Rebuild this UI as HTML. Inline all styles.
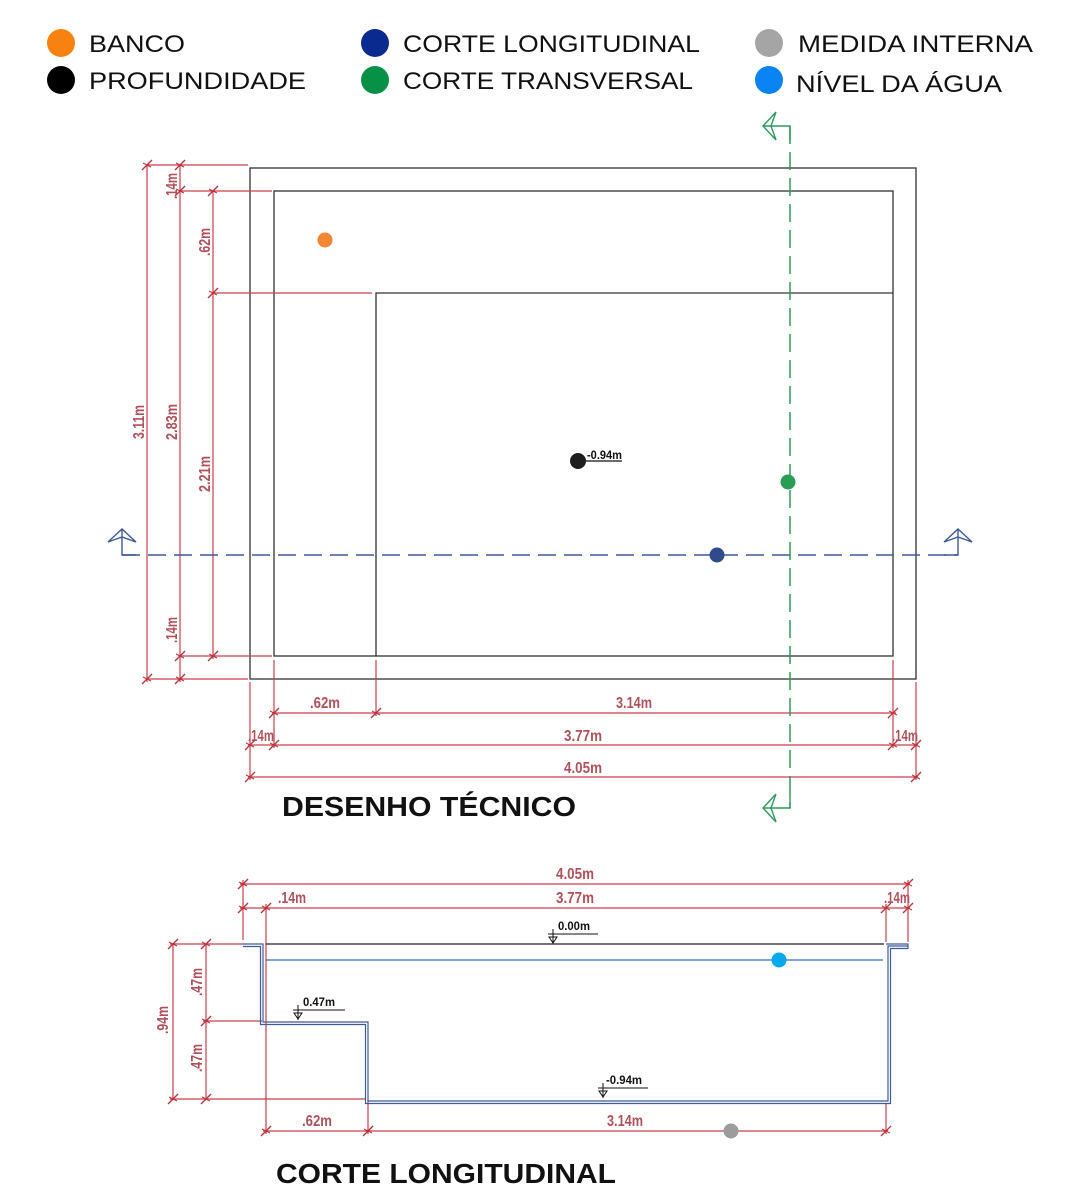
<!DOCTYPE html>
<html><head><meta charset="utf-8"><style>
html,body{margin:0;padding:0;background:#fff;}
svg{display:block;}
.lg{font-family:"Liberation Sans",sans-serif;font-size:24px;fill:#111;}
.d{font-family:"Liberation Sans",sans-serif;font-size:16px;font-weight:bold;fill:#b0505a;}
.k{font-family:"Liberation Sans",sans-serif;font-size:12px;font-weight:bold;fill:#111;}
.t{font-family:"Liberation Sans",sans-serif;font-size:28px;font-weight:bold;fill:#111;}
</style></head><body>
<svg width="1080" height="1200" viewBox="0 0 1080 1200" xmlns="http://www.w3.org/2000/svg">
<defs>
<g id="tk"><line x1="-5" y1="5" x2="5" y2="-5" stroke="#c0303a" stroke-width="1.3"/><line x1="-4" y1="-2" x2="4" y2="2" stroke="#c0303a" stroke-width="1"/></g>
</defs>
<circle cx="61" cy="43" r="14" fill="#f7820f"/>
<circle cx="61" cy="80" r="14" fill="#000"/>
<circle cx="375" cy="43" r="14" fill="#0a2a8f"/>
<circle cx="375" cy="80" r="14" fill="#069147"/>
<circle cx="769" cy="43" r="14" fill="#a5a5a5"/>
<circle cx="769" cy="80" r="14" fill="#0a84f5"/>
<text class="lg" x="89" y="52" textLength="96" lengthAdjust="spacingAndGlyphs">BANCO</text>
<text class="lg" x="89" y="89" textLength="217" lengthAdjust="spacingAndGlyphs">PROFUNDIDADE</text>
<text class="lg" x="403" y="52" textLength="297" lengthAdjust="spacingAndGlyphs">CORTE LONGITUDINAL</text>
<text class="lg" x="403" y="89" textLength="290" lengthAdjust="spacingAndGlyphs">CORTE TRANSVERSAL</text>
<text class="lg" x="798" y="52" textLength="235" lengthAdjust="spacingAndGlyphs">MEDIDA INTERNA</text>
<text class="lg" x="796" y="92" textLength="206" lengthAdjust="spacingAndGlyphs">NÍVEL DA ÁGUA</text>

<g fill="none" stroke="#333" stroke-width="1.3">
<rect x="250" y="168" width="666" height="511"/>
<rect x="274" y="191" width="619" height="465"/>
<polyline points="376,656 376,293 893,293"/>
</g>
<g stroke="#c8404a" stroke-width="1.2" fill="none">
<line x1="147" y1="165" x2="147" y2="682"/>
<line x1="180" y1="165" x2="180" y2="682"/>
<line x1="213" y1="191" x2="213" y2="659"/>
<line x1="147" y1="165" x2="248" y2="165"/>
<line x1="180" y1="191" x2="272" y2="191"/>
<line x1="213" y1="293" x2="372" y2="293"/>
<line x1="180" y1="656" x2="272" y2="656"/>
<line x1="147" y1="679" x2="248" y2="679"/>
<line x1="272" y1="713" x2="896" y2="713"/>
<line x1="248" y1="745" x2="918" y2="745"/>
<line x1="248" y1="777" x2="918" y2="777"/>
<line x1="250" y1="682" x2="250" y2="780"/>
<line x1="274" y1="660" x2="274" y2="748"/>
<line x1="376" y1="660" x2="376" y2="716"/>
<line x1="893" y1="660" x2="893" y2="748"/>
<line x1="916" y1="682" x2="916" y2="780"/>
</g>
<use href="#tk" x="147" y="165"/><use href="#tk" x="147" y="679"/>
<use href="#tk" x="180" y="165"/><use href="#tk" x="180" y="191"/><use href="#tk" x="180" y="656"/><use href="#tk" x="180" y="679"/>
<use href="#tk" x="213" y="191"/><use href="#tk" x="213" y="293"/><use href="#tk" x="213" y="656"/>
<use href="#tk" x="274" y="713"/><use href="#tk" x="376" y="713"/><use href="#tk" x="893" y="713"/>
<use href="#tk" x="250" y="745"/><use href="#tk" x="274" y="745"/><use href="#tk" x="893" y="745"/><use href="#tk" x="916" y="745"/>
<use href="#tk" x="250" y="777"/><use href="#tk" x="916" y="777"/>
<g class="d" text-anchor="middle">
<text transform="translate(144,422) rotate(-90)" textLength="34" lengthAdjust="spacingAndGlyphs">3.11m</text>
<text transform="translate(177,422) rotate(-90)" textLength="36" lengthAdjust="spacingAndGlyphs">2.83m</text>
<text transform="translate(177,186) rotate(-90)" textLength="26" lengthAdjust="spacingAndGlyphs">.14m</text>
<text transform="translate(177,630) rotate(-90)" textLength="26" lengthAdjust="spacingAndGlyphs">.14m</text>
<text transform="translate(210,242) rotate(-90)" textLength="28" lengthAdjust="spacingAndGlyphs">.62m</text>
<text transform="translate(210,474) rotate(-90)" textLength="36" lengthAdjust="spacingAndGlyphs">2.21m</text>
<text x="325" y="708" textLength="30" lengthAdjust="spacingAndGlyphs">.62m</text>
<text x="634" y="708" textLength="36" lengthAdjust="spacingAndGlyphs">3.14m</text>
<text x="261" y="741" textLength="26" lengthAdjust="spacingAndGlyphs">.14m</text>
<text x="583" y="741" textLength="38" lengthAdjust="spacingAndGlyphs">3.77m</text>
<text x="905" y="741" textLength="26" lengthAdjust="spacingAndGlyphs">.14m</text>
<text x="583" y="773" textLength="38" lengthAdjust="spacingAndGlyphs">4.05m</text>
</g>
<line x1="122" y1="555" x2="958" y2="555" stroke="#3d5a98" stroke-width="1.5" stroke-dasharray="18,8"/>
<g fill="none" stroke="#3d5a98" stroke-width="1.4">
<polyline points="136,555 122,555 122,529"/><polyline points="108,542 122,529 136,542 122,537 108,542"/>
<polyline points="944,555 958,555 958,529"/><polyline points="944,542 958,529 972,542 958,537 944,542"/>
</g>
<line x1="790" y1="126" x2="790" y2="808" stroke="#2e9a5c" stroke-width="1.5" stroke-dasharray="18,8"/>
<g fill="none" stroke="#2e9a5c" stroke-width="1.4">
<polyline points="790,140 790,126 763,126"/><polyline points="776,112 763,126 776,140 771,126 776,112"/>
<polyline points="790,794 790,808 763,808"/><polyline points="776,794 763,808 776,822 771,808 776,794"/>
</g>
<circle cx="325" cy="240" r="7.5" fill="#f38533"/>
<circle cx="578" cy="461" r="8" fill="#1e1e1e"/>
<line x1="586" y1="461" x2="622" y2="461" stroke="#111" stroke-width="1.2"/>
<text class="k" x="587" y="459" textLength="35" lengthAdjust="spacingAndGlyphs">-0.94m</text>
<circle cx="788" cy="482" r="7.5" fill="#2a9d55"/>
<circle cx="717" cy="555" r="7.5" fill="#2f4b8e"/>
<text class="t" x="282" y="816" textLength="294" lengthAdjust="spacingAndGlyphs">DESENHO TÉCNICO</text>

<g stroke="#c8404a" stroke-width="1.2" fill="none">
<line x1="240" y1="884" x2="910" y2="884"/>
<line x1="240" y1="908" x2="910" y2="908"/>
<line x1="243" y1="880" x2="243" y2="940"/>
<line x1="266" y1="904" x2="266" y2="1134"/>
<line x1="886" y1="904" x2="886" y2="942"/>
<line x1="908" y1="880" x2="908" y2="942"/>
<line x1="173" y1="944" x2="173" y2="1099"/>
<line x1="206" y1="944" x2="206" y2="1099"/>
<line x1="170" y1="944" x2="243" y2="944"/>
<line x1="203" y1="1021" x2="262" y2="1021"/>
<line x1="170" y1="1099" x2="366" y2="1099"/>
<line x1="263" y1="1131" x2="888" y2="1131"/>
<line x1="368" y1="1100" x2="368" y2="1134"/>
<line x1="886" y1="1104" x2="886" y2="1134"/>
</g>
<use href="#tk" x="243" y="884"/><use href="#tk" x="908" y="884"/>
<use href="#tk" x="243" y="908"/><use href="#tk" x="266" y="908"/><use href="#tk" x="886" y="908"/><use href="#tk" x="908" y="908"/>
<use href="#tk" x="173" y="944"/><use href="#tk" x="173" y="1099"/>
<use href="#tk" x="206" y="944"/><use href="#tk" x="206" y="1021"/><use href="#tk" x="206" y="1099"/>
<use href="#tk" x="266" y="1131"/><use href="#tk" x="368" y="1131"/><use href="#tk" x="886" y="1131"/>
<g class="d" text-anchor="middle">
<text x="575" y="879" textLength="38" lengthAdjust="spacingAndGlyphs">4.05m</text>
<text x="575" y="903" textLength="38" lengthAdjust="spacingAndGlyphs">3.77m</text>
<text x="292" y="903" textLength="28" lengthAdjust="spacingAndGlyphs">.14m</text>
<text x="897" y="903" textLength="26" lengthAdjust="spacingAndGlyphs">.14m</text>
<text x="317" y="1126" textLength="30" lengthAdjust="spacingAndGlyphs">.62m</text>
<text x="625" y="1126" textLength="36" lengthAdjust="spacingAndGlyphs">3.14m</text>
<text transform="translate(168,1020) rotate(-90)" textLength="28" lengthAdjust="spacingAndGlyphs">.94m</text>
<text transform="translate(202,982) rotate(-90)" textLength="28" lengthAdjust="spacingAndGlyphs">.47m</text>
<text transform="translate(202,1058) rotate(-90)" textLength="28" lengthAdjust="spacingAndGlyphs">.47m</text>
</g>
<line x1="266" y1="944" x2="884" y2="944" stroke="#222" stroke-width="1.2"/>
<line x1="266" y1="960" x2="883" y2="960" stroke="#2a6fd0" stroke-width="1.2"/>
<g fill="none" stroke="#3f5a9a" stroke-width="1.2">
<polyline points="243,944 263,944 263,1022 368,1022 368,1101 888,1101 888,946 908,946"/>
<polyline points="243,946.5 260.5,946.5 260.5,1024.5 365.5,1024.5 365.5,1103.5 890.5,1103.5 890.5,948.5 908,948.5 908,944 886,944"/>
</g>
<circle cx="779" cy="960" r="7.5" fill="#05a9ee"/>
<circle cx="731" cy="1131" r="7.5" fill="#9c9c9c"/>
<g stroke="#111" stroke-width="1" fill="none">
<line x1="548" y1="934" x2="598" y2="934"/><line x1="553" y1="929" x2="553" y2="943"/><path d="M549,937 L557,937 L553,943 Z"/>
<line x1="293" y1="1010" x2="345" y2="1010"/><line x1="298" y1="1005" x2="298" y2="1020"/><path d="M294,1013 L302,1013 L298,1019 Z"/>
<line x1="598" y1="1088" x2="648" y2="1088"/><line x1="603" y1="1083" x2="603" y2="1098"/><path d="M599,1091 L607,1091 L603,1097 Z"/>
</g>
<text class="k" x="558" y="930" textLength="32" lengthAdjust="spacingAndGlyphs">0.00m</text>
<text class="k" x="303" y="1006" textLength="32" lengthAdjust="spacingAndGlyphs">0.47m</text>
<text class="k" x="606" y="1084" textLength="36" lengthAdjust="spacingAndGlyphs">-0.94m</text>
<text class="t" x="276" y="1183" textLength="340" lengthAdjust="spacingAndGlyphs">CORTE LONGITUDINAL</text>
</svg>
</body></html>
